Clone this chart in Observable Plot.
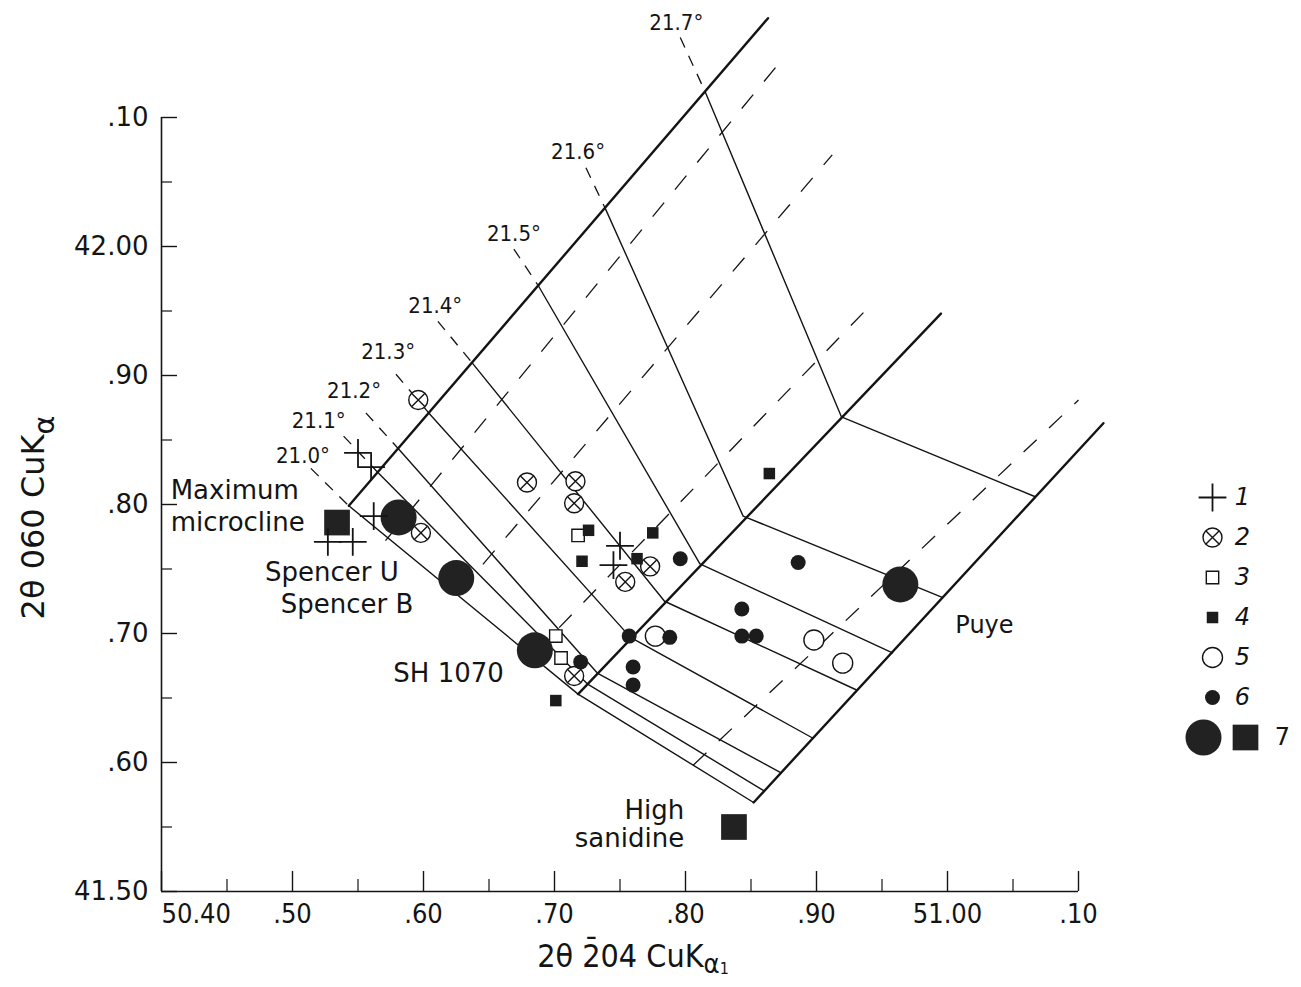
<!DOCTYPE html>
<html><head><meta charset="utf-8">
<script src="https://cdn.jsdelivr.net/npm/d3@7"></script>
<script src="https://cdn.jsdelivr.net/npm/@observablehq/plot@0.6"></script>
<style>
html,body{margin:0;padding:0;background:#fff;}
#wrap{position:relative;width:1301px;height:987px;overflow:hidden;}
#wrap svg{position:absolute;left:0;top:0;}
</style></head><body><div id="wrap"></div>
<script>
// ---------- axes ----------
const xDomain = [50.40, 51.10];
const yDomain = [41.50, 42.10];
const xMajor = [50.40, 50.50, 50.60, 50.70, 50.80, 50.90, 51.00, 51.10];
const xMajorLabels = ["50.40", ".50", ".60", ".70", ".80", ".90", "51.00", ".10"];
const xMinor = [50.45, 50.55, 50.65, 50.75, 50.85, 50.95, 51.05];
const yMajor = [41.50, 41.60, 41.70, 41.80, 41.90, 42.00, 42.10];
const yMajorLabels = ["41.50", ".60", ".70", ".80", ".90", "42.00", ".10"];
const yMinor = [41.55, 41.65, 41.75, 41.85, 41.95, 42.05];
const xTitle = "2θ 2̄04 CuKα1";
const yTitle = "2θ 060 CuKα";

// ---------- 2θ(201) contour grid ----------
const contours = [21.0, 21.1, 21.2, 21.3, 21.4, 21.5, 21.6, 21.7];
const contourLabels = ["21.0°", "21.1°", "21.2°", "21.3°", "21.4°", "21.5°", "21.6°", "21.7°"];
// start on maximum microcline - low albite edge
const leftX = [50.543, 50.565, 50.581, 50.604, 50.637, 50.688, 50.739, 50.815];
const leftY = [41.799, 41.825, 41.843, 41.871, 41.910, 41.969, 42.029, 42.120];
// bend on the middle line
const kinkX = [50.718, 50.725, 50.733, 50.758, 50.784, 50.811, 50.844, 50.919];
const kinkY = [41.653, 41.661, 41.669, 41.697, 41.725, 41.754, 41.791, 41.868];
// end on high sanidine - high albite edge
const rightX = [50.852, 50.860, 50.873, 50.897, 50.931, 50.958, 50.996, 51.067];
const rightY = [41.569, 41.578, 41.592, 41.619, 41.656, 41.685, 41.728, 41.806];
// upper ends of the three bounding lines (left, middle, right)
const edgeTopX = [50.863, 50.995, 51.119];
const edgeTopY = [42.177, 41.948, 41.863];
// contour label positions and leader starts
const labelX = [50.508, 50.520, 50.547, 50.573, 50.609, 50.669, 50.718, 50.793];
const labelY = [41.838, 41.865, 41.888, 41.918, 41.954, 42.010, 42.073, 42.173];
const leaderX = [50.514, 50.539, 50.556, 50.579, 50.611, 50.669, 50.724, 50.796];
const leaderY = [41.828, 41.853, 41.871, 41.901, 41.942, 41.998, 42.061, 42.162];
// dashed structural-state lines
const structX1 = [50.571, 50.628, 50.685, 50.806];
const structY1 = [41.772, 41.733, 41.685, 41.598];
const structX2 = [50.873, 50.912, 50.937, 51.100];
const structY2 = [42.144, 42.071, 41.950, 41.881];

// ---------- samples ----------
const sampleType = ["1","1","1","1","1","1","1",
  "2","2","2","2","2","2","2","2",
  "3","3","3",
  "4","4","4","4","4","4",
  "5","5","5",
  "6","6","6","6","6","6","6","6","6","6",
  "7c","7c","7c","7c","7s","7s"];
const sampleX = [50.550, 50.560, 50.562, 50.527, 50.546, 50.750, 50.745,
  50.596, 50.598, 50.679, 50.716, 50.715, 50.773, 50.754, 50.715,
  50.718, 50.701, 50.705,
  50.726, 50.721, 50.775, 50.763, 50.701, 50.864,
  50.777, 50.898, 50.920,
  50.796, 50.757, 50.788, 50.760, 50.760, 50.886, 50.843, 50.843, 50.854, 50.720,
  50.581, 50.625, 50.685, 50.964, 50.534, 50.837];
const sampleY = [41.840, 41.829, 41.791, 41.771, 41.771, 41.768, 41.753,
  41.881, 41.778, 41.817, 41.818, 41.801, 41.752, 41.740, 41.667,
  41.776, 41.698, 41.681,
  41.780, 41.756, 41.778, 41.758, 41.648, 41.824,
  41.698, 41.695, 41.677,
  41.758, 41.698, 41.697, 41.674, 41.660, 41.755, 41.719, 41.698, 41.698, 41.678,
  41.790, 41.743, 41.687, 41.738, 41.786, 41.550];

// ---------- annotations ----------
const noteText = ["Maximum", "microcline", "Spencer U", "Spencer B", "SH 1070", "Puye"];
const noteX = [50.407, 50.407, 50.479, 50.491, 50.577, 51.006];
const noteY = [41.811, 41.786, 41.747, 41.722, 41.669, 41.706];
// right-aligned annotations
const noteRText = ["High", "sanidine"];
const noteRX = [50.799, 50.799];
const noteRY = [41.563, 41.541];

// ---------- legend ----------
const legendKeys = ["1", "2", "3", "4", "5", "6", "7"];

// ---------- build ----------
const W = 1301, H = 987;
const mL = 161, mR = 223, mT = 117, mB = 96;
const frameW = W - mL - mR, frameH = H - mT - mB;
const INK = "#141414", DARK = "#1c1c1c";
const FONT = "DejaVu Sans, sans-serif";
const COND = "DejaVu Sans Condensed, DejaVu Sans, sans-serif";

const contourLines = contours.flatMap((c, i) => [
  {c, x: leftX[i], y: leftY[i]},
  {c, x: kinkX[i], y: kinkY[i]},
  {c, x: rightX[i], y: rightY[i]}
]);
const edgeLines = [
  {e: 0, x: leftX[0], y: leftY[0]}, {e: 0, x: edgeTopX[0], y: edgeTopY[0]},
  {e: 1, x: kinkX[0], y: kinkY[0]}, {e: 1, x: edgeTopX[1], y: edgeTopY[1]},
  {e: 2, x: rightX[0], y: rightY[0]}, {e: 2, x: edgeTopX[2], y: edgeTopY[2]}
];
const leaders = contours.map((c, i) => ({x1: leaderX[i], y1: leaderY[i], x2: leftX[i], y2: leftY[i]}));
const labels = contours.map((c, i) => ({t: contourLabels[i], x: labelX[i], y: labelY[i]}));
const structs = structX1.map((d, i) => ({x1: structX1[i], y1: structY1[i], x2: structX2[i], y2: structY2[i]}));
const samples = sampleType.map((t, i) => ({t, x: sampleX[i], y: sampleY[i]}));
const notes = noteText.map((t, i) => ({t, x: noteX[i], y: noteY[i]}));
const notesR = noteRText.map((t, i) => ({t, x: noteRX[i], y: noteRY[i]}));

function symbolMarks(data, x, y, opts = {}) {
  const f = t => data.filter(d => d.t === t);
  return [
    Plot.dot(f("2"), {x, y, r: 9.5, fill: "white", stroke: INK, strokeWidth: 1.4, ...opts}),
    Plot.dot(f("2"), {x, y, r: 6, symbol: "times", stroke: INK, strokeWidth: 1.4, ...opts}),
    Plot.dot(f("3"), {x, y, r: 7, symbol: "square", fill: "white", stroke: INK, strokeWidth: 1.4, ...opts}),
    Plot.dot(f("5"), {x, y, r: 10, fill: "white", stroke: INK, strokeWidth: 1.4, ...opts}),
    Plot.dot(f("4"), {x, y, r: 6.5, symbol: "square", fill: DARK, ...opts}),
    Plot.dot(f("6"), {x, y, r: 7.5, fill: DARK, ...opts}),
    Plot.dot(f("7c"), {x, y, r: 18, fill: "#222", ...opts}),
    Plot.dot(f("7s"), {x, y, r: 14.5, symbol: "square", fill: "#222", ...opts}),
    Plot.dot(f("1"), {x, y, r: 9, symbol: "plus", stroke: INK, strokeWidth: 1.8, ...opts})
  ];
}

const chart = Plot.plot({
  width: W, height: H,
  marginLeft: mL, marginRight: mR, marginTop: mT, marginBottom: mB,
  style: {fontFamily: FONT, background: "white", color: INK, overflow: "visible"},
  x: {domain: xDomain, axis: null},
  y: {domain: yDomain, axis: null},
  marks: [
    // axes frame
    Plot.ruleX([xDomain[0]], {stroke: INK, strokeWidth: 1.6}),
    Plot.ruleY([yDomain[0]], {stroke: INK, strokeWidth: 1.6}),
    Plot.tickX(xMajor, {x: d => d, insetTop: frameH - 20, stroke: INK, strokeWidth: 1.4}),
    Plot.tickX(xMinor, {x: d => d, insetTop: frameH - 12, stroke: INK, strokeWidth: 1.2}),
    Plot.tickY(yMajor, {y: d => d, insetRight: frameW - 16, stroke: INK, strokeWidth: 1.4}),
    Plot.tickY(yMinor, {y: d => d, insetRight: frameW - 11, stroke: INK, strokeWidth: 1.2}),
    Plot.axisY(yMajor, {tickSize: 0, tickPadding: 13, fontSize: 26, fontFamily: FONT,
      tickFormat: d => yMajorLabels[yMajor.indexOf(d)]}),
    Plot.axisX(xMajor.slice(1), {tickSize: 0, tickPadding: 12, fontSize: 27, fontFamily: COND,
      tickFormat: d => xMajorLabels[xMajor.indexOf(d)]}),
    Plot.text([xMajor[0]], {x: d => d, frameAnchor: "bottom", lineAnchor: "top", dy: 12, dx: 0,
      textAnchor: "start", fontSize: 27, fontFamily: COND, text: d => xMajorLabels[0], fill: INK}),
    // titles
    Plot.text([yTitle], {text: d => d, frameAnchor: "left", textAnchor: "middle", lineAnchor: "middle",
      rotate: -90, dx: -128, dy: 13, fontSize: 32, fontFamily: FONT, fill: INK}),
    Plot.text([xTitle], {text: d => d, frameAnchor: "bottom", textAnchor: "middle", lineAnchor: "bottom",
      dx: 13, dy: 75, fontSize: 32, fontFamily: COND, fill: INK}),
    // grid
    Plot.link(structs, {x1: "x1", y1: "y1", x2: "x2", y2: "y2", stroke: INK, strokeWidth: 1.3,
      strokeDasharray: "18,17"}),
    Plot.link(leaders, {x1: "x1", y1: "y1", x2: "x2", y2: "y2", stroke: INK, strokeWidth: 1.3,
      strokeDasharray: "11,9"}),
    Plot.line(contourLines, {x: "x", y: "y", z: "c", stroke: INK, strokeWidth: 1.4}),
    Plot.line(edgeLines, {x: "x", y: "y", z: "e", stroke: INK, strokeWidth: 2.4}),
    Plot.text(labels, {x: "x", y: "y", text: "t", fontSize: 22, fontFamily: COND, fill: INK}),
    // samples
    ...symbolMarks(samples, "x", "y"),
    // annotations
    Plot.text(notes, {x: "x", y: "y", text: "t", textAnchor: "start", fill: INK, fontFamily: FONT,
      fontSize: d => d.t === "Puye" ? 24 : 26}),
    Plot.text(notesR, {x: "x", y: "y", text: "t", textAnchor: "end", fill: INK, fontFamily: FONT,
      fontSize: 26})
  ]
});

// subscripts in axis titles
d3.select(chart).selectAll("text").each(function() {
  const el = d3.select(this);
  if (this.textContent === yTitle) {
    el.text(null);
    el.append("tspan").text("2θ 060 CuK");
    el.append("tspan").attr("dy", "0.35em").attr("font-size", "0.9em").text("α");
  } else if (this.textContent === xTitle) {
    el.text(null);
    el.append("tspan").text("2θ 2̄04 CuK");
    el.append("tspan").attr("dy", "0.25em").attr("font-size", "0.85em").text("α");
    el.append("tspan").attr("dy", "0.05em").attr("font-size", "0.5em").text("1");
  }
});

// legend (overlay)
const legendSyms = legendKeys.slice(0, 6).map(k => ({t: k, k, col: "sym"}));
const legend = Plot.plot({
  width: W, height: H, margin: 0,
  style: {background: "transparent", overflow: "visible", fontFamily: FONT, color: INK},
  x: {type: "point", domain: ["sym", "num", "end"], range: [1212, 1282], padding: 0, axis: null},
  y: {type: "point", domain: legendKeys, range: [497, 737], padding: 0, axis: null},
  marks: [
    ...symbolMarks(legendSyms, "col", "k"),
    ...symbolMarks([{t: "7c", k: "7", col: "sym"}], "col", "k", {dx: -9}),
    ...symbolMarks([{t: "7s", k: "7", col: "num"}], "col", "k", {dx: -2}),
    Plot.text(legendKeys.slice(0, 6), {x: () => "num", y: d => d, text: d => d, dx: -5,
      fontSize: 24, fontStyle: "italic", fill: INK}),
    Plot.text(["7"], {x: () => "end", y: d => d, text: d => d, fontSize: 24, fill: INK})
  ]
});

const wrap = document.getElementById("wrap");
wrap.appendChild(chart);
wrap.appendChild(legend);
</script>
</body></html>
